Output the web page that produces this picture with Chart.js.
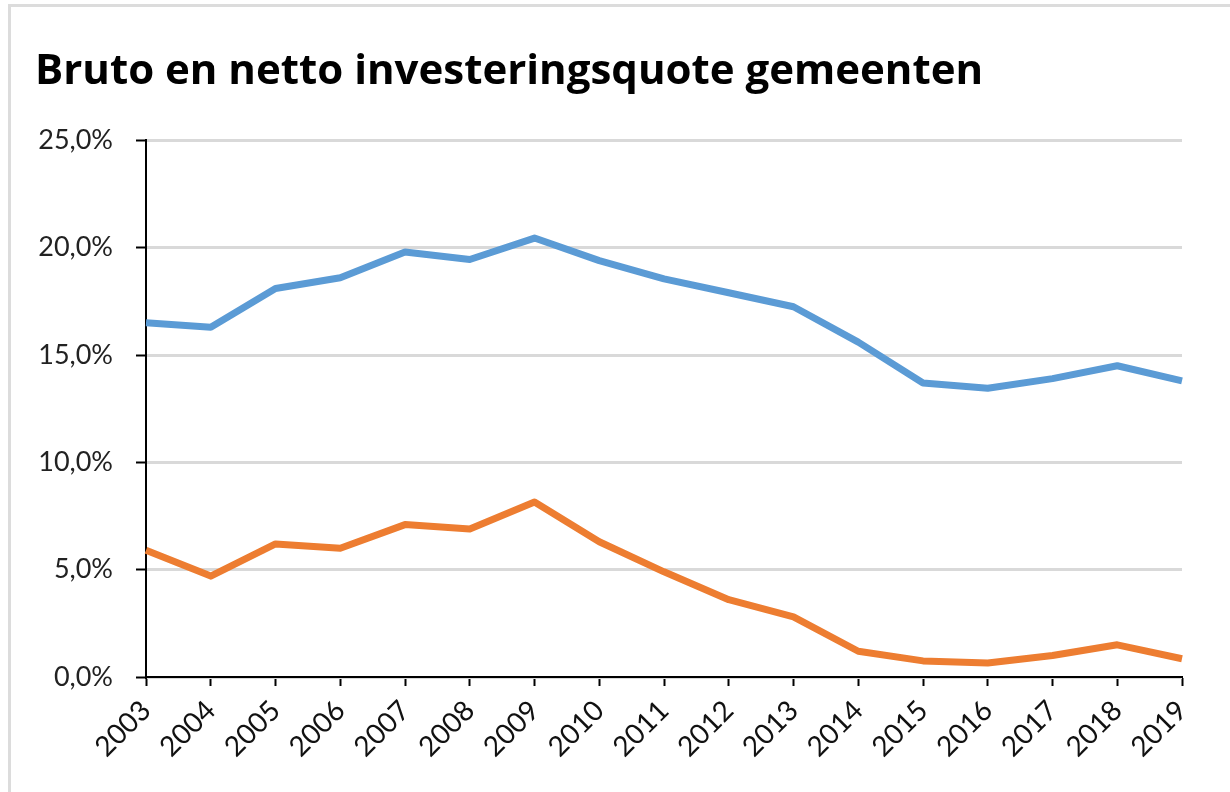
<!DOCTYPE html>
<html>
<head>
<meta charset="utf-8">
<script src="https://cdn.jsdelivr.net/npm/chart.js@4"></script>
<style>
  html, body { margin: 0; padding: 0; background: #fff; }
  #wrap { position: relative; width: 1230px; height: 792px; }
  #frame { position: absolute; left: 8px; top: 4px; right: 0; bottom: 0;
           border-top: 3px solid #dcdcdc; border-left: 3px solid #dcdcdc; pointer-events: none; }
  canvas { position: absolute; left: 0; top: 0; }
</style>
</head>
<body>
<div id="wrap">
  <canvas id="c" width="1230" height="792"></canvas>
  <div id="frame"></div>
</div>
<script>
const titleText = 'Bruto en netto investeringsquote gemeenten';
const years = ['2003','2004','2005','2006','2007','2008','2009','2010','2011','2012','2013','2014','2015','2016','2017','2018','2019'];
const bruto = [16.5, 16.3, 18.1, 18.6, 19.8, 19.45, 20.45, 19.4, 18.55, 17.9, 17.25, 15.6, 13.7, 13.45, 13.9, 14.5, 13.8];
const netto = [5.9, 4.7, 6.2, 6.0, 7.1, 6.9, 8.15, 6.3, 4.9, 3.6, 2.8, 1.2, 0.75, 0.65, 1.0, 1.5, 0.85];
const yTicks = [0, 5, 10, 15, 20, 25];

const fontFam = 'Lato, "Open Sans", sans-serif';

new Chart(document.getElementById('c'), {
  type: 'line',
  data: {
    labels: years,
    datasets: [
      { label: 'Bruto', data: bruto, borderColor: '#5B9BD5', backgroundColor: '#5B9BD5',
        borderWidth: 7, pointRadius: 0, tension: 0, borderJoinStyle: 'round', borderCapStyle: 'butt' },
      { label: 'Netto', data: netto, borderColor: '#ED7D31', backgroundColor: '#ED7D31',
        borderWidth: 7, pointRadius: 0, tension: 0, borderJoinStyle: 'round', borderCapStyle: 'butt' }
    ]
  },
  options: {
    responsive: false,
    animation: false,
    devicePixelRatio: 1,
    layout: { padding: { left: 35, right: 48, top: 0, bottom: 0 } },
    plugins: {
      legend: { display: false },
      tooltip: { enabled: false },
      title: {
        display: true, text: titleText, align: 'start', color: '#000',
        font: { family: '"Open Sans", Lato, sans-serif', size: 42, weight: 'bold', lineHeight: 1.2 },
        padding: { top: 47, bottom: 43 }
      }
    },
    scales: {
      x: {
        type: 'category',
        offset: false,
        afterFit: s => { s.height = 115; },
        grid: { display: true, drawOnChartArea: false, drawTicks: true, tickLength: 9,
                tickColor: '#000', tickWidth: 2, offset: false },
        border: { display: true, color: '#000', width: 2 },
        ticks: { autoSkip: false, minRotation: 45, maxRotation: 45, padding: 8,
                 color: '#111', font: { family: fontFam, size: 28 } }
      },
      y: {
        min: 0, max: 25,
        afterFit: s => { s.width = 111; },
        afterBuildTicks: s => { s.ticks = yTicks.map(v => ({ value: v })); },
        grid: { color: '#d9d9d9', lineWidth: 3, drawTicks: true, tickLength: 10,
                tickColor: '#000', tickWidth: 2 },
        border: { display: true, color: '#000', width: 2 },
        ticks: { padding: 23, color: '#222', font: { family: fontFam, size: 27 },
                 callback: v => v.toFixed(1).replace('.', ',') + '%' }
      }
    }
  }
});
</script>
</body>
</html>
